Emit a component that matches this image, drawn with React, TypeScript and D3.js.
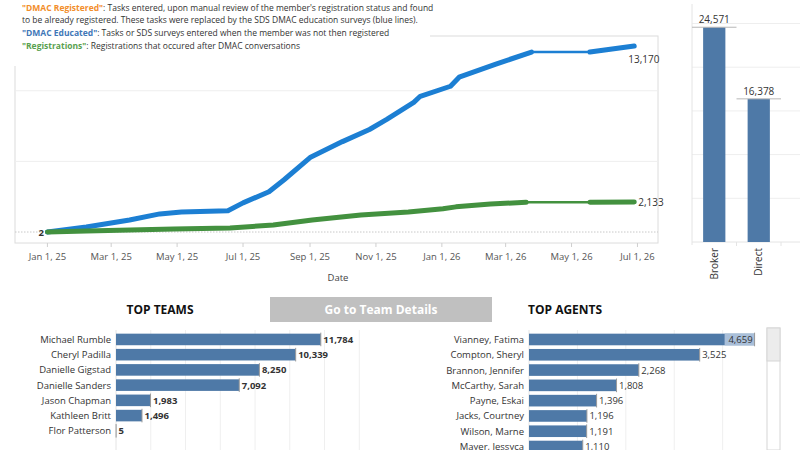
import React from 'react';
import * as d3 from 'd3';

// cumulative series
const educatedDates = ['2025-01-01', '2025-02-06', '2025-03-18', '2025-04-15', '2025-05-05', '2025-06-17', '2025-07-01', '2025-07-25', '2025-08-08', '2025-09-01', '2025-10-01', '2025-10-26', '2025-11-11', '2025-12-06', '2025-12-12', '2026-01-09', '2026-01-17', '2026-02-20', '2026-03-25', '2026-05-18', '2026-06-28'];
const educatedValues = [2, 360, 850, 1280, 1420, 1500, 2060, 2850, 3700, 5270, 6400, 7260, 7970, 9180, 9610, 10320, 10960, 11890, 12740, 12740, 13170];
const educatedGap = 18; // thin segment starts at this index

const registrationDates = ['2025-01-01', '2025-02-06', '2025-04-28', '2025-06-19', '2025-07-29', '2025-09-03', '2025-10-18', '2025-12-01', '2026-01-02', '2026-01-14', '2026-02-15', '2026-03-20', '2026-05-18', '2026-06-28'];
const registrationValues = [2, 70, 215, 285, 500, 850, 1210, 1420, 1640, 1780, 1990, 2100, 2110, 2133];
const registrationGap = 11;

const channels = ['Broker', 'Direct'];
const channelValues = [24571, 16378];

const teams = ['Michael Rumble', 'Cheryl Padilla', 'Danielle Gigstad', 'Danielle Sanders', 'Jason Chapman', 'Kathleen Britt', 'Flor Patterson'];
const teamValues = [11784, 10339, 8250, 7092, 1983, 1496, 5];

const agents = ['Vianney, Fatima', 'Compton, Sheryl', 'Brannon, Jennifer', 'McCarthy, Sarah', 'Payne, Eskai', 'Jacks, Courtney', 'Wilson, Marne', 'Mayer, Jessyca'];
const agentValues = [4659, 3525, 2268, 1808, 1396, 1196, 1191, 1110];

const FONT = '"Open Sans", "Noto Sans", sans-serif';
const BAR = '#4e79a7';
const BLUE = '#1c7fd3';
const GREEN = '#43913f';
const fmt = d3.format(',');
const parse = d3.timeParse('%Y-%m-%d');

type Pt = { d: Date; v: number };

function LineChart() {
  const x = d3.scaleTime()
    .domain([new Date(2024, 11, 2), new Date(2026, 6, 20)])
    .range([15, 658]);
  const y = d3.scaleLinear().domain([0, 13170]).range([232, 46]);
  const line = d3.line<Pt>().x(p => x(p.d)).y(p => y(p.v));

  const series = [
    { dates: educatedDates, values: educatedValues, gap: educatedGap, color: BLUE },
    { dates: registrationDates, values: registrationValues, gap: registrationGap, color: GREEN },
  ].map(s => ({ ...s, pts: s.dates.map((d, i) => ({ d: parse(d) as Date, v: s.values[i] })) }));

  const ticks = x.ticks(d3.timeMonth.every(2) as any);
  const grid = [5000, 10000];
  const last = (s: typeof series[0]) => s.pts[s.pts.length - 1];

  return (
    <g>
      <rect x={15} y={36} width={643} height={207} fill="none" stroke="#dcdcdc" />
      {grid.map(g => (
        <line key={g} x1={15} x2={658} y1={y(g)} y2={y(g)} stroke="#eeeeee" />
      ))}
      <line x1={15} x2={658} y1={y(0)} y2={y(0)} stroke="#c8c8c8" strokeDasharray="1.5,1.5" />
      {ticks.map(t => (
        <g key={+t}>
          <line x1={x(t)} x2={x(t)} y1={243} y2={247} stroke="#cfcfcf" />
          <text x={x(t)} y={260} textAnchor="middle" fontSize={9.5} fill="#555">
            {d3.timeFormat('%b %-d, %y')(t)}
          </text>
        </g>
      ))}
      <text x={338} y={281} textAnchor="middle" fontSize={9.5} fill="#444">Date</text>
      {series.map((s, i) => (
        <g key={i} fill="none" stroke={s.color} strokeLinecap="round" strokeLinejoin="round">
          <path d={line(s.pts.slice(0, s.gap + 1)) || ''} strokeWidth={5} />
          <path d={line(s.pts.slice(s.gap, s.gap + 2)) || ''} strokeWidth={2.5} />
          <path d={line(s.pts.slice(s.gap + 1)) || ''} strokeWidth={5} />
        </g>
      ))}
      <text x={44} y={y(0) + 3.5} textAnchor="end" fontSize={9.5} fontWeight="bold" fill="#333">2</text>
      <text x={x(last(series[0]).d) - 6} y={y(last(series[0]).v) + 17} fontSize={10} fill="#333">
        {fmt(last(series[0]).v)}
      </text>
      <text x={x(last(series[1]).d) + 4} y={y(last(series[1]).v) + 4} fontSize={10} fill="#333">
        {fmt(last(series[1]).v)}
      </text>
      <rect x={0} y={0} width={430} height={66} fill="#fff" />
      <g fontSize={8.5} fill="#333">
        <text x={22} y={11}>
          <tspan fill="#f28e2b" fontWeight="bold">"DMAC Registered"</tspan>: Tasks entered, upon manual review of the member's registration status and found
        </text>
        <text x={22} y={23}>to be already registered.  These tasks were replaced by the SDS DMAC education surveys (blue lines).</text>
        <text x={22} y={36}>
          <tspan fill="#3f78b8" fontWeight="bold">"DMAC Educated"</tspan>: Tasks or SDS surveys entered when the member was not then registered
        </text>
        <text x={22} y={49}>
          <tspan fill="#59a14f" fontWeight="bold">"Registrations"</tspan>: Registrations that occured after DMAC conversations
        </text>
      </g>
    </g>
  );
}

function ChannelChart() {
  const x = d3.scaleBand().domain(channels).range([692, 781]).paddingInner(0.5).paddingOuter(0.25);
  const y = d3.scaleLinear().domain([0, 25000]).range([242, 23.5]);
  const grid = [5000, 10000, 15000, 20000, 25000];
  const step = x.step();
  return (
    <g>
      {grid.map(g => (
        <line key={g} x1={692} x2={800} y1={y(g)} y2={y(g)} stroke="#eeeeee" />
      ))}
      <line x1={692} x2={692} y1={4} y2={245} stroke="#e4e4e4" />
      <line x1={692} x2={800} y1={242} y2={242} stroke="#e4e4e4" />
      {channels.map((c, i) => {
        const cx = (x(c) as number) + x.bandwidth() / 2;
        return (
          <g key={c}>
            <rect x={x(c)} y={y(channelValues[i])} width={x.bandwidth()} height={y(0) - y(channelValues[i])} fill={BAR} />
            <line x1={cx - step / 2} x2={cx + step / 2} y1={y(channelValues[i])} y2={y(channelValues[i])} stroke="#b8b8b8" />
            <line x1={cx + step / 2} x2={cx + step / 2} y1={242} y2={246} stroke="#e4e4e4" />
            <text x={cx} y={y(channelValues[i]) - 4} textAnchor="middle" fontSize={10} fill="#333">{fmt(channelValues[i])}</text>
            <text transform={`translate(${cx + 3.5},248) rotate(-90)`} textAnchor="end" fontSize={10} fill="#333">{c}</text>
          </g>
        );
      })}
    </g>
  );
}

function HBar({ names, values, left, right, max, labelBold, every, highlightFirst }: {
  names: string[]; values: number[]; left: number; right: number; max: number;
  labelBold: boolean; every: number; highlightFirst?: boolean;
}) {
  const x = d3.scaleLinear().domain([0, max]).range([left, right]);
  const y = d3.scaleBand().domain(names).range([330, 330 + names.length * 15.75]).padding(0.24);
  const grid = d3.range(every, max, every);
  return (
    <g>
      {grid.map(g => (
        <line key={g} x1={x(g)} x2={x(g)} y1={330} y2={450} stroke="#efefef" />
      ))}
      <line x1={left} x2={left} y1={330} y2={450} stroke="#e4e4e4" />
      {names.map((n, i) => {
        const yy = y(n) as number;
        const w = x(values[i]) - left;
        const inside = highlightFirst && i === 0;
        return (
          <g key={n}>
            <rect x={left} y={yy} width={w} height={y.bandwidth()} fill={BAR} />
            {inside && <rect x={x(values[i]) - 30} y={yy} width={30} height={y.bandwidth()} fill="#a9bfd9" />}
            <line x1={x(values[i])} x2={x(values[i])} y1={yy - 1} y2={yy + y.bandwidth() + 1} stroke="#9a9a9a" />
            <text x={left - 5} y={yy + y.bandwidth() / 2 + 3.5} textAnchor="end" fontSize={9.5} fill="#333">{n}</text>
            <text x={inside ? x(values[i]) - 2 : x(values[i]) + 2.5} y={yy + y.bandwidth() / 2 + 3.5}
              textAnchor={inside ? 'end' : 'start'} fontSize={9.5}
              fontWeight={labelBold ? 'bold' : 'normal'} fill="#333">{fmt(values[i])}</text>
          </g>
        );
      })}
    </g>
  );
}

export default function App() {
  return (
    <svg width={800} height={450} style={{ position: 'absolute', left: 0, top: 0, background: '#fff' }} fontFamily={FONT}>
      <LineChart />
      <ChannelChart />
      <text x={160} y={314} textAnchor="middle" fontSize={12} fontWeight="bold" fill="#111">TOP TEAMS</text>
      <rect x={270} y={297} width={222} height={25} fill="#c0c0c0" />
      <text x={381} y={314} textAnchor="middle" fontSize={12} fontWeight="bold" fill="#fff">Go to Team Details</text>
      <text x={528} y={314} fontSize={12} fontWeight="bold" fill="#111">TOP AGENTS</text>
      <HBar names={teams} values={teamValues} left={116} right={368} max={14500} labelBold={true} every={2000} />
      <HBar names={agents} values={agentValues} left={529} right={759} max={4750} labelBold={false} every={1000} highlightFirst />
      <rect x={767} y={328} width={13} height={122} fill="#fff" stroke="#d6d6d6" />
      <rect x={767} y={328} width={13} height={33} fill="#ececec" stroke="#d6d6d6" />
    </svg>
  );
}
